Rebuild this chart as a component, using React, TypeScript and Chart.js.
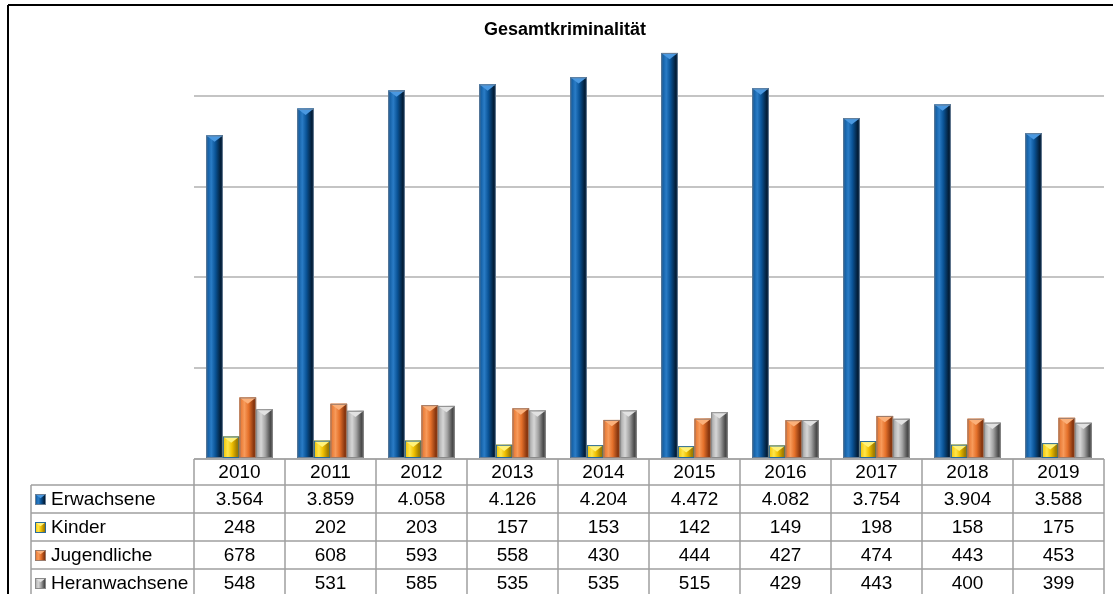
import React, { useEffect, useRef } from "react";
import { Chart, registerables } from "chart.js";

Chart.register(...registerables);

const chartTitle = "Gesamtkriminalität";
const years = ["2010", "2011", "2012", "2013", "2014", "2015", "2016", "2017", "2018", "2019"];
const erwachsene = [3564, 3859, 4058, 4126, 4204, 4472, 4082, 3754, 3904, 3588];
const kinder = [248, 202, 203, 157, 153, 142, 149, 198, 158, 175];
const jugendliche = [678, 608, 593, 558, 430, 444, 427, 474, 443, 453];
const heranwachsene = [548, 531, 585, 535, 535, 515, 429, 443, 400, 399];
const seriesNames = ["Erwachsene", "Kinder", "Jugendliche", "Heranwachsene"];

type Shade = { base: string; light: string; dark: string; top: string; border: string };
const shades: Shade[] = [
  { base: "#0a5396", light: "#2a7cc6", dark: "#03203c", top: "#4a98e0", border: "#6a7f95" },
  { base: "#f0c000", light: "#ffe64a", dark: "#a07c00", top: "#fff27a", border: "#2a6a9a" },
  { base: "#e4702a", light: "#f79a5a", dark: "#8a3810", top: "#fbb07a", border: "#9a7a6a" },
  { base: "#a4a4a4", light: "#d6d6d6", dark: "#4c4c4c", top: "#e2e2e2", border: "#8a8a8a" },
];

function fmt(n: number): string {
  const s = String(n);
  if (s.length <= 3) return s;
  return s.slice(0, s.length - 3) + "." + s.slice(s.length - 3);
}

function bevelRect(ctx: CanvasRenderingContext2D, x0: number, x1: number, top: number, bottom: number, sh: Shade) {
  const w = x1 - x0;
  const g = ctx.createLinearGradient(x0, 0, x1, 0);
  g.addColorStop(0, sh.base);
  g.addColorStop(0.3, sh.light);
  g.addColorStop(0.55, sh.base);
  g.addColorStop(0.85, sh.dark);
  g.addColorStop(1, sh.dark);
  ctx.fillStyle = g;
  ctx.fillRect(x0, top, w, bottom - top);
  const h = Math.min(w * 0.38, (bottom - top) * 0.6);
  ctx.beginPath();
  ctx.moveTo(x0, top);
  ctx.lineTo(x1, top);
  ctx.lineTo(x0 + w / 2, top + h);
  ctx.closePath();
  ctx.fillStyle = sh.top;
  ctx.fill();
  ctx.strokeStyle = sh.border;
  ctx.lineWidth = 1;
  ctx.strokeRect(x0 + 0.5, top + 0.5, w - 1, bottom - top - 1);
}

const bevelPlugin = {
  id: "bevelBars",
  afterDatasetsDraw(chart: any) {
    const ctx: CanvasRenderingContext2D = chart.ctx;
    ctx.save();
    chart.data.datasets.forEach((_ds: any, i: number) => {
      const meta = chart.getDatasetMeta(i);
      meta.data.forEach((el: any) => {
        const p = el.getProps(["x", "y", "base", "width"], true);
        bevelRect(ctx, p.x - p.width / 2, p.x + p.width / 2, p.y, p.base, shades[i]);
      });
    });
    ctx.restore();
  },
};

const tablePlugin = {
  id: "dataTable",
  afterDraw(chart: any) {
    const ctx: CanvasRenderingContext2D = chart.ctx;
    const xs = chart.scales.x;
    const area = chart.chartArea;
    const left = area.left;
    const right = area.right;
    const top = area.bottom;
    const labelLeft = 31;
    const headerH = 26;
    const rowH = 28;
    const n = years.length;
    const colW = (right - left) / n;
    const rowsTop = top + headerH;
    const tableBottom = rowsTop + rowH * 4;
    ctx.save();
    // frame
    ctx.strokeStyle = "#000";
    ctx.lineWidth = 2;
    ctx.beginPath();
    ctx.moveTo(8, 5);
    ctx.lineTo(1113, 5);
    ctx.moveTo(8, 5);
    ctx.lineTo(8, 600);
    ctx.stroke();
    // title
    ctx.fillStyle = "#000";
    ctx.font = "bold 18px 'Liberation Sans', Arial, sans-serif";
    ctx.textAlign = "center";
    ctx.textBaseline = "middle";
    ctx.fillText(chartTitle, 565, 30);
    // table grid
    ctx.strokeStyle = "#a0a0a0";
    ctx.lineWidth = 1.5;
    ctx.beginPath();
    ctx.moveTo(left, top);
    ctx.lineTo(right, top);
    for (let r = 0; r <= 4; r++) {
      const y = rowsTop + r * rowH;
      ctx.moveTo(labelLeft, y);
      ctx.lineTo(right, y);
    }
    for (let c = 0; c <= n; c++) {
      const x = left + c * colW;
      ctx.moveTo(x, top);
      ctx.lineTo(x, tableBottom);
    }
    ctx.moveTo(labelLeft, rowsTop);
    ctx.lineTo(labelLeft, tableBottom);
    ctx.stroke();
    // header
    ctx.fillStyle = "#000";
    ctx.font = "19px 'Liberation Sans', Arial, sans-serif";
    ctx.textAlign = "center";
    ctx.textBaseline = "middle";
    years.forEach((yr, i) => {
      ctx.fillText(yr, xs.getPixelForValue(i), top + headerH / 2 + 1);
    });
    const all = [erwachsene, kinder, jugendliche, heranwachsene];
    all.forEach((vals, r) => {
      const cy = rowsTop + r * rowH + rowH / 2 + 1;
      ctx.textAlign = "center";
      vals.forEach((v, i) => {
        ctx.fillText(fmt(v), xs.getPixelForValue(i), cy);
      });
      bevelRect(ctx, 35, 46, cy - 6, cy + 5, shades[r]);
      ctx.fillStyle = "#000";
      ctx.textAlign = "left";
      ctx.fillText(seriesNames[r], 51, cy);
    });
    ctx.restore();
  },
};

export default function App() {
  const ref = useRef<HTMLCanvasElement | null>(null);
  useEffect(() => {
    if (!ref.current) return;
    const mk = (label: string, data: number[], i: number) => ({
      label,
      data,
      backgroundColor: shades[i].base,
      borderWidth: 0,
      categoryPercentage: 0.73,
      barPercentage: 1,
    });
    const chart = new Chart(ref.current, {
      type: "bar",
      data: {
        labels: years,
        datasets: [
          mk(seriesNames[0], erwachsene, 0),
          mk(seriesNames[1], kinder, 1),
          mk(seriesNames[2], jugendliche, 2),
          mk(seriesNames[3], heranwachsene, 3),
        ],
      },
      options: {
        animation: false,
        responsive: true,
        maintainAspectRatio: false,
        layout: { padding: { left: 194, right: 9, top: 5, bottom: 135 } },
        plugins: { legend: { display: false }, title: { display: false }, tooltip: { enabled: false } },
        scales: {
          x: { display: false },
          y: {
            min: 0,
            max: 5000,
            ticks: { display: false, stepSize: 1000 },
            grid: { color: "#c4c4c4", lineWidth: 2, drawTicks: false },
            border: { display: false },
          },
        },
      },
      plugins: [bevelPlugin, tablePlugin],
    });
    return () => chart.destroy();
  }, []);
  return (
    <div style={{ position: "absolute", left: 0, top: 0, width: 1113, height: 594, background: "#fff" }}>
      <canvas ref={ref} />
    </div>
  );
}
